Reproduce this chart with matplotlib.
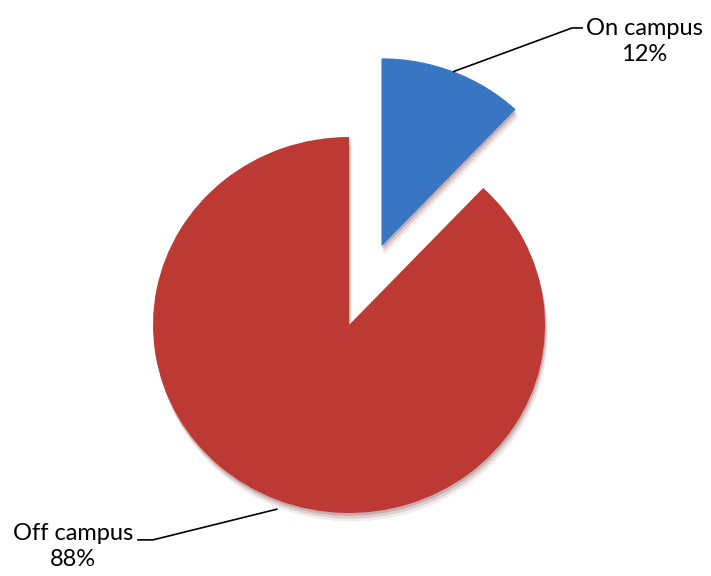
import matplotlib.pyplot as plt
import matplotlib.patches as mpatches
import numpy as np

# Data
labels = ["On campus", "Off campus"]
shares = [12, 88]
colors = ["#3876C4", "#BD3934"]
explode = [0.45, 0.0]

fig = plt.figure(figsize=(7.11, 5.76), dpi=100)
ax = fig.add_axes([0, 0, 1, 1])

wedges, _ = ax.pie(shares, colors=colors, explode=explode, startangle=90,
                   counterclock=False, radius=1.0,
                   wedgeprops=dict(linewidth=0))

# soft shadow under each slice
for w in wedges:
    w.set_zorder(3)
    cx, cy = w.center
    for k, a in [(0.045, 0.08), (0.03, 0.12), (0.015, 0.18)]:
        sh = mpatches.Wedge((cx + k * 0.3, cy - k), w.r, w.theta1, w.theta2,
                            color="#5a1010", alpha=a, lw=0, zorder=2)
        ax.add_patch(sh)

# slightly wider than tall, like the reference
ax.set_aspect("auto")
ax.set_xlim(-349 / 196, (711 - 349) / 196)
ax.set_ylim(-(576 - 325) / 188, 325 / 188)
ax.axis("off")


def mid_point(w):
    a = np.deg2rad((w.theta1 + w.theta2) / 2)
    cx, cy = w.center
    return cx + w.r * np.cos(a), cy + w.r * np.sin(a)


# On campus label
x0, y0 = mid_point(wedges[0])
ax.plot([x0, 1.138, 1.189], [y0, 1.580, 1.580], color="black", lw=1.2, zorder=4)
ax.text(1.505, 1.51, "On campus\n{}%".format(shares[0]), ha="center", va="center",
        fontsize=17, family="Lato", linespacing=1.3)

# Off campus label
x1, y1 = mid_point(wedges[1])
ax.plot([x1, -1.0, -1.076], [y1 - 0.05, -1.143, -1.143], color="black", lw=1.2, zorder=4)
ax.text(-1.408, -1.18, "Off campus\n{}%".format(shares[1]), ha="center", va="center",
        fontsize=17, family="Lato", linespacing=1.3)

plt.savefig("out.png", dpi=100)
